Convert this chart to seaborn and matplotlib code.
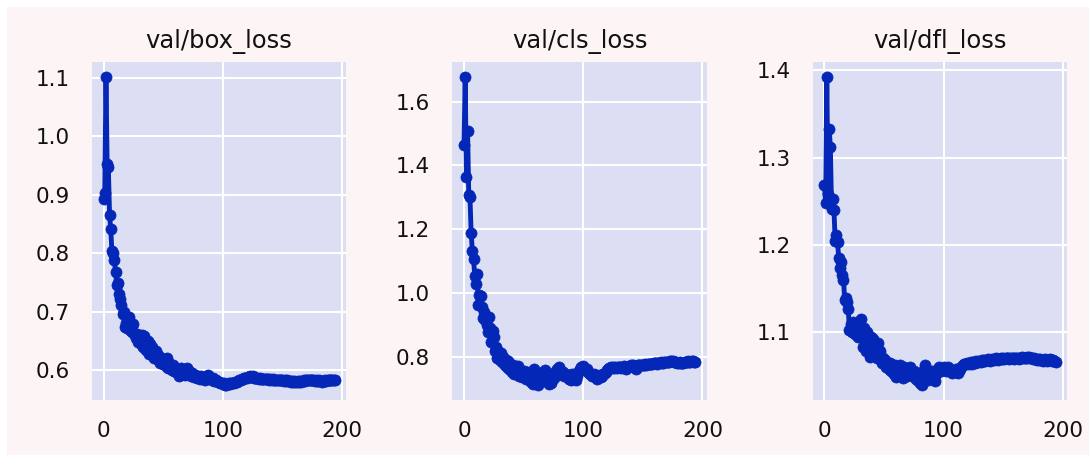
import numpy as np
import pandas as pd
import matplotlib
matplotlib.use("Agg")
import matplotlib.pyplot as plt
from matplotlib.patches import Rectangle
import seaborn as sns

titles = ["val/box_loss", "val/cls_loss", "val/dfl_loss"]
xticks = [0, 100, 200]

box_loss = [
    0.893, 0.903, 1.101, 0.952, 0.948, 0.866, 0.841, 0.803, 0.800, 0.789,
    0.768, 0.745, 0.748, 0.730, 0.722, 0.712, 0.696, 0.700, 0.674, 0.680,
    0.672, 0.690, 0.668, 0.676, 0.665, 0.679, 0.660, 0.655, 0.662, 0.648,
    0.654, 0.645, 0.660, 0.640, 0.658, 0.642, 0.634, 0.650, 0.628, 0.645,
    0.636, 0.640, 0.620, 0.623, 0.632, 0.618, 0.625, 0.612, 0.620, 0.615,
    0.610, 0.618, 0.606, 0.620, 0.604, 0.612, 0.607, 0.600, 0.608, 0.598,
    0.602, 0.596, 0.600, 0.590, 0.598, 0.603, 0.595, 0.600, 0.592, 0.597,
    0.603, 0.594, 0.598, 0.590, 0.594, 0.590, 0.588, 0.592, 0.586, 0.590,
    0.587, 0.585, 0.589, 0.584, 0.586, 0.583, 0.588, 0.590, 0.592, 0.587,
    0.585, 0.583, 0.586, 0.581, 0.583, 0.581, 0.579, 0.580, 0.577, 0.578,
    0.576, 0.577, 0.575, 0.575, 0.576, 0.577, 0.576, 0.578, 0.577, 0.578,
    0.579, 0.579, 0.580, 0.581, 0.582, 0.583, 0.584, 0.585, 0.586, 0.587,
    0.587, 0.588, 0.588, 0.589, 0.588, 0.589, 0.587, 0.586, 0.587, 0.586,
    0.585, 0.586, 0.585, 0.584, 0.585, 0.584, 0.585, 0.585, 0.584, 0.583,
    0.584, 0.583, 0.584, 0.583, 0.582, 0.583, 0.582, 0.583, 0.582, 0.582,
    0.582, 0.581, 0.582, 0.581, 0.582, 0.581, 0.581, 0.580, 0.581, 0.580,
    0.581, 0.580, 0.580, 0.581, 0.580, 0.581, 0.580, 0.581, 0.582, 0.581,
    0.582, 0.583, 0.582, 0.583, 0.582, 0.583, 0.582, 0.581, 0.582, 0.581,
    0.581, 0.582, 0.581, 0.580, 0.581, 0.581, 0.582, 0.581, 0.582, 0.582,
    0.583, 0.582, 0.582, 0.583, 0.582,
]

cls_loss = [
    1.463, 1.677, 1.364, 1.509, 1.307, 1.300, 1.189, 1.132, 1.107, 1.054,
    1.029, 1.060, 0.961, 0.992, 0.990, 0.955, 0.921, 0.940, 0.915, 0.900,
    0.877, 0.925, 0.890, 0.847, 0.880, 0.860, 0.816, 0.830, 0.797, 0.815,
    0.790, 0.810, 0.782, 0.800, 0.775, 0.790, 0.768, 0.785, 0.760, 0.778,
    0.750, 0.772, 0.745, 0.765, 0.752, 0.770, 0.740, 0.758, 0.748, 0.735,
    0.755, 0.740, 0.730, 0.750, 0.728, 0.745, 0.720, 0.738, 0.715, 0.760,
    0.730, 0.748, 0.712, 0.735, 0.742, 0.725, 0.750, 0.733, 0.758, 0.722,
    0.740, 0.713, 0.730, 0.718, 0.745, 0.728, 0.752, 0.740, 0.760, 0.748,
    0.766, 0.755, 0.748, 0.750, 0.740, 0.745, 0.738, 0.742, 0.730, 0.735,
    0.725, 0.745, 0.728, 0.738, 0.725, 0.740, 0.752, 0.760, 0.768, 0.762,
    0.769, 0.765, 0.758, 0.760, 0.752, 0.748, 0.745, 0.740, 0.738, 0.745,
    0.742, 0.735, 0.728, 0.738, 0.742, 0.735, 0.740, 0.745, 0.748, 0.752,
    0.758, 0.762, 0.765, 0.766, 0.764, 0.766, 0.765, 0.767, 0.765, 0.768,
    0.766, 0.768, 0.765, 0.767, 0.770, 0.765, 0.762, 0.766, 0.768, 0.770,
    0.772, 0.770, 0.773, 0.768, 0.760, 0.770, 0.772, 0.775, 0.774, 0.772,
    0.773, 0.775, 0.776, 0.774, 0.776, 0.777, 0.778, 0.776, 0.778, 0.780,
    0.779, 0.780, 0.778, 0.781, 0.780, 0.782, 0.781, 0.780, 0.782, 0.783,
    0.782, 0.784, 0.783, 0.785, 0.786, 0.785, 0.784, 0.783, 0.782, 0.780,
    0.781, 0.782, 0.780, 0.779, 0.781, 0.783, 0.782, 0.784, 0.785, 0.783,
    0.784, 0.786, 0.785, 0.783, 0.782,
]

dfl_loss = [
    1.269, 1.248, 1.392, 1.258, 1.333, 1.312, 1.241, 1.252, 1.240, 1.205,
    1.211, 1.203, 1.185, 1.173, 1.180, 1.165, 1.160, 1.137, 1.139, 1.135,
    1.126, 1.103, 1.109, 1.100, 1.112, 1.105, 1.098, 1.103, 1.095, 1.110,
    1.100, 1.115, 1.083, 1.105, 1.090, 1.078, 1.100, 1.085, 1.072, 1.095,
    1.080, 1.092, 1.075, 1.085, 1.070, 1.088, 1.072, 1.078, 1.065, 1.070,
    1.064, 1.068, 1.060, 1.062, 1.058, 1.065, 1.055, 1.060, 1.052, 1.062,
    1.049, 1.058, 1.055, 1.062, 1.050, 1.057, 1.048, 1.060, 1.053, 1.050,
    1.058, 1.052, 1.060, 1.055, 1.050, 1.056, 1.048, 1.052, 1.045, 1.050,
    1.042, 1.048, 1.040, 1.055, 1.062, 1.058, 1.050, 1.045, 1.052, 1.048,
    1.055, 1.047, 1.050, 1.044, 1.052, 1.058, 1.060, 1.058, 1.055, 1.057,
    1.060, 1.058, 1.055, 1.058, 1.060, 1.057, 1.055, 1.053, 1.056, 1.055,
    1.058, 1.054, 1.053, 1.056, 1.058, 1.060, 1.062, 1.064, 1.063, 1.064,
    1.065, 1.064, 1.065, 1.066, 1.064, 1.066, 1.065, 1.067, 1.066, 1.066,
    1.067, 1.066, 1.068, 1.067, 1.068, 1.067, 1.068, 1.069, 1.068, 1.067,
    1.068, 1.069, 1.068, 1.069, 1.070, 1.069, 1.068, 1.069, 1.070, 1.069,
    1.070, 1.069, 1.070, 1.071, 1.070, 1.069, 1.070, 1.071, 1.070, 1.069,
    1.070, 1.071, 1.070, 1.069, 1.070, 1.071, 1.072, 1.071, 1.070, 1.071,
    1.072, 1.071, 1.072, 1.071, 1.070, 1.069, 1.070, 1.069, 1.068, 1.069,
    1.068, 1.069, 1.068, 1.067, 1.068, 1.069, 1.068, 1.067, 1.068, 1.069,
    1.068, 1.067, 1.068, 1.067, 1.066,
]

epochs = list(range(len(box_loss)))
series = [box_loss, cls_loss, dfl_loss]

sns.set_theme(style="darkgrid")
plt.rcParams["font.family"] = ["DejaVu Sans"]

LINE = "#0527b8"
FACE = "#dcdff3"
FIGBG = "#fdf5f5"

fig, axes = plt.subplots(1, 3, figsize=(10.89, 4.55), dpi=100)
fig.patch.set_facecolor("white")
fig.patches.append(Rectangle((7 / 1089, 0), 1 - 7 / 1089, 1 - 7 / 455,
                             transform=fig.transFigure, facecolor=FIGBG,
                             edgecolor="none", zorder=-10))
fig.subplots_adjust(left=0.0845, right=0.98, top=0.864, bottom=0.121, wspace=0.417)

for ax, title, vals in zip(axes, titles, series):
    df = pd.DataFrame({"epoch": epochs, "value": vals})
    sns.lineplot(data=df, x="epoch", y="value", ax=ax, color=LINE,
                 linewidth=3.5, marker="o", markersize=8,
                 markeredgecolor=LINE, markeredgewidth=0.5)
    ax.set_facecolor(FACE)
    ax.grid(True, color="white", linewidth=1.5)
    for s in ax.spines.values():
        s.set_visible(False)
    ax.set_xticks(xticks)
    ax.set_title(title, fontsize=17.5, pad=10, color="#111111")
    ax.set_xlabel("")
    ax.set_ylabel("")
    ax.tick_params(axis="both", labelsize=15.5, length=0, colors="#111111")
    ax.tick_params(axis="y", pad=16)
    ax.tick_params(axis="x", pad=15)

axes[0].set_yticks([0.6, 0.7, 0.8, 0.9, 1.0, 1.1])
axes[1].set_yticks([0.8, 1.0, 1.2, 1.4, 1.6])
axes[2].set_yticks([1.1, 1.2, 1.3, 1.4])

fig.savefig("out.png", dpi=100, facecolor=fig.get_facecolor())
